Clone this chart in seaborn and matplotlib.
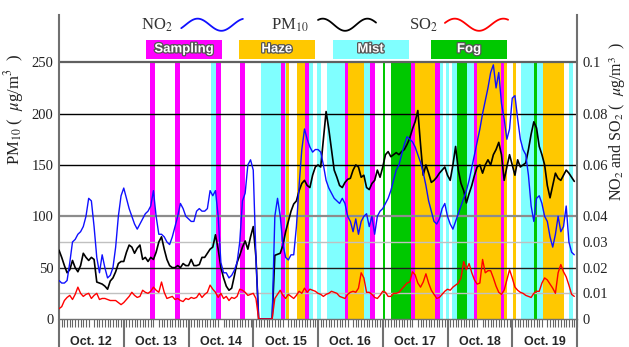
import numpy as np
import pandas as pd
import matplotlib
matplotlib.use("Agg")
import matplotlib.pyplot as plt
import matplotlib.patheffects as pe
import seaborn as sns

# ----------------------------
# DATA (hourly, Oct. 12 00h .. Oct. 19 23h)
# ----------------------------
days = ["Oct. 12", "Oct. 13", "Oct. 14", "Oct. 15", "Oct. 16", "Oct. 17", "Oct. 18", "Oct. 19"]

pm10 = [
    67, 60, 52, 45, 48, 57, 50, 46, 52, 64, 60, 57, 60, 58, 36, 35, 34, 32, 29, 37, 40, 46, 54, 56,
    56, 65, 72, 70, 64, 69, 72, 58, 60, 56, 60, 58, 65, 75, 80, 68, 58, 52, 50, 50, 52, 50, 54, 52,
    52, 58, 52, 52, 53, 60, 60, 64, 68, 70, 82, 68, 50, 40, 32, 28, 30, 42, 55, 62, 70, 76, 68, 80,
    90, 60, 0, 0, 0, 0, 0, 0, 62, 63, 64, 72, 85, 95, 105, 112, 115, 125, 132, 135, 130, 128, 140, 148,
    150, 148, 175, 202, 185, 165, 145, 138, 130, 128, 133, 136, 137, 145, 150, 148, 138, 140, 128, 126, 132, 135, 145, 138,
    148, 160, 163, 158, 160, 162, 160, 163, 165, 170, 176, 185, 192, 203, 170, 140, 150, 142, 133, 135, 138, 142, 145, 148,
    140, 135, 150, 168, 145, 132, 125, 113, 122, 130, 140, 148, 150, 142, 150, 155, 150, 160, 165, 172, 160, 135, 148, 160,
    150, 140, 155, 148, 150, 152, 165, 180, 192, 186, 168, 160, 150, 130, 118, 130, 142, 137, 135, 140, 145, 142, 138, 134,
]

no2 = [
    .015, .014, .014, .015, .022, .030, .031, .033, .034, .036, .040, .047, .046, .036, .024, .018, .025, .020, .016, .017, .020, .028, .040, .048,
    .051, .047, .043, .040, .037, .035, .037, .039, .041, .042, .044, .050, .040, .033, .033, .032, .030, .029, .032, .036, .040, .045, .043, .040,
    .039, .038, .038, .042, .043, .042, .042, .043, .050, .048, .050, .040, .022, .018, .018, .016, .017, .019, .022, .030, .046, .049, .060, .062,
    .058, .024, 0, 0, 0, 0, 0, 0, .040, .047, .040, .029, .024, .023, .025, .025, .036, .052, .066, .074, .070, .067, .065, .066,
    .066, .065, .060, .054, .051, .049, .047, .046, .045, .047, .045, .040, .038, .034, .039, .033, .038, .040, .041, .036, .040, .033, .040, .042,
    .043, .045, .047, .050, .054, .058, .060, .064, .068, .071, .070, .069, .067, .064, .061, .057, .052, .046, .042, .038, .037, .039, .043, .045,
    .040, .037, .035, .038, .041, .044, .047, .050, .054, .059, .064, .069, .074, .080, .085, .090, .096, .099, .090, .096, .084, .078, .070, .074,
    .086, .087, .078, .070, .066, .064, .056, .044, .038, .047, .048, .045, .040, .038, .032, .028, .033, .040, .034, .036, .044, .030, .026, .025,
]

so2 = [
    .0040, .0048, .0072, .0084, .0092, .0076, .0096, .0124, .0100, .0088, .0096, .0100, .0080, .0092, .0100, .0076, .0080, .0080, .0076, .0072, .0072, .0072, .0064, .0056,
    .0064, .0076, .0088, .0104, .0092, .0084, .0088, .0112, .0104, .0100, .0108, .0124, .0112, .0104, .0144, .0104, .0080, .0084, .0088, .0076, .0080, .0072, .0068, .0080,
    .0076, .0084, .0080, .0084, .0100, .0084, .0096, .0104, .0132, .0116, .0104, .0084, .0100, .0080, .0088, .0072, .0084, .0080, .0088, .0116, .0112, .0104, .0092, .0096,
    .0100, .0080, 0, 0, 0, 0, 0, 0, .0080, .0096, .0112, .0092, .0080, .0096, .0088, .0080, .0092, .0108, .0100, .0120, .0104, .0116, .0112, .0108,
    .0100, .0096, .0088, .0096, .0100, .0108, .0104, .0100, .0088, .0084, .0080, .0096, .0104, .0108, .0104, .0120, .0180, .0160, .0104, .0104, .0096, .0084, .0080, .0092,
    .0108, .0104, .0088, .0088, .0100, .0100, .0104, .0116, .0128, .0140, .0144, .0184, .0172, .0140, .0124, .0144, .0176, .0140, .0112, .0096, .0080, .0084, .0096, .0108,
    .0116, .0112, .0124, .0132, .0140, .0160, .0224, .0192, .0216, .0180, .0152, .0136, .0140, .0232, .0180, .0188, .0188, .0160, .0128, .0104, .0096, .0112, .0152, .0192,
    .0160, .0124, .0112, .0104, .0100, .0092, .0088, .0084, .0100, .0108, .0108, .0140, .0160, .0152, .0136, .0120, .0100, .0180, .0212, .0184, .0164, .0132, .0096, .0088,
]

# event periods (start hour, end hour)
sampling_spans = [(33.6, 35.6), (42.9, 45.0), (58.3, 59.9), (67.1, 69.0), (82.3, 83.6), (91.2, 92.7),
                  (106.0, 107.0), (115.3, 117.1), (130.3, 131.9), (139.4, 141.2), (153.9, 155.0), (163.7, 165.0)]
mist_spans = [(56.2, 58.3), (74.8, 82.3), (83.6, 84.1), (92.7, 94.1), (95.8, 97.1), (99.2, 106.0),
              (113.2, 115.3), (141.2, 142.4), (143.4, 144.5), (145.5, 147.6), (151.1, 153.9),
              (171.1, 176.2), (177.2, 179.5), (189.1, 190.6)]
haze_spans = [(84.1, 85.1), (88.1, 91.2), (107.0, 113.2), (131.9, 139.4), (155.0, 163.7),
              (165.0, 165.9), (168.2, 169.3), (179.5, 187.2)]
fog_spans = [(120.0, 121.0), (123.0, 130.3), (147.6, 151.1), (176.2, 177.2)]

event_names = ["Sampling", "Haze", "Mist", "Fog"]
event_colors = {"Sampling": "#ff00ff", "Haze": "#ffc800", "Mist": "#80ffff", "Fog": "#00c800"}

# ----------------------------
# STYLE
# ----------------------------
sns.set_style("white")
plt.rcParams["font.family"] = ["Liberation Serif", "DejaVu Serif"]
plt.rcParams["mathtext.fontset"] = "stix"

hours = np.arange(len(pm10))
df = pd.DataFrame({"hour": hours, "pm10": pm10, "no2": no2, "so2": so2})

fig = plt.figure(figsize=(6.29, 3.47), dpi=100)
ax = fig.add_axes([59 / 629, 1 - 319 / 347, 518 / 629, 304 / 347])
ax2 = ax.twinx()

ax.set_xlim(0, 192)
ax.set_ylim(0, 296)
ax2.set_ylim(0, 296 / 2500)

# shaded periods (only below the 250 line)
span_top = 250 / ax.get_ylim()[1]
for spans, name in [(mist_spans, "Mist"), (haze_spans, "Haze"), (fog_spans, "Fog"), (sampling_spans, "Sampling")]:
    for a, b in spans:
        ax.axvspan(a, b, ymin=0, ymax=span_top, color=event_colors[name], lw=0, zorder=0)

# horizontal guide lines
for yv, col, lw in [(250, "#606060", 1.6), (200, "#000000", 1.0), (150, "#000000", 1.0),
                    (100, "#8c8c8c", 1.6), (75, "#c0c0c0", 1.0), (50, "#202020", 1.0), (25, "#c0c0c0", 1.0)]:
    ax.axhline(yv, color=col, lw=lw, zorder=1)

sns.lineplot(data=df, x="hour", y="pm10", ax=ax, color="black", lw=1.2, zorder=3)
sns.lineplot(data=df, x="hour", y="no2", ax=ax2, color="#1010ff", lw=1.0, zorder=3)
sns.lineplot(data=df, x="hour", y="so2", ax=ax2, color="#ff0000", lw=1.0, zorder=3)

ax.set_xlim(0, 192)
ax.set_ylim(0, 296)
ax2.set_ylim(0, 296 / 2500)

ax.set_yticks([0, 50, 100, 150, 200, 250])
ax2.set_yticks([0, 0.01, 0.02, 0.03, 0.04, 0.06, 0.08, 0.1])
ax2.set_yticklabels(["0", "0.01", "0.02", "0.03", "0.04", "0.06", "0.08", "0.1"])
ax.tick_params(axis="y", length=0, pad=4, labelsize=10.5, labelcolor="#222222")
ax2.tick_params(axis="y", length=0, pad=4, labelsize=10.5, labelcolor="#222222")

ax.set_xticks(np.arange(12, 192, 24))
ax.set_xticklabels(days, fontfamily="Liberation Sans", fontweight="bold", fontsize=9)
ax.set_xticks(np.arange(0, 193, 1), minor=True)
ax.tick_params(axis="x", which="major", bottom=True, length=0, pad=12)
ax.tick_params(axis="x", which="minor", bottom=True, length=6, width=0.8, color="#666666", direction="out")
ax.vlines(np.arange(0, 193, 24), -0.1, 0, transform=ax.get_xaxis_transform(),
          colors="#707070", lw=1.5, clip_on=False)

ax.set_xlabel("")
ax.set_ylabel(r"PM$_{10}$ (  $\mu$g/m$^3$  )", fontsize=12, color="#222222")
ax.yaxis.set_label_coords(-0.064, 0.69)
ax2.set_ylabel(r"NO$_2$ and SO$_2$ (  $\mu$g/m$^3$  )", fontsize=11.5, color="#222222")
ax2.yaxis.set_label_coords(1.058, 0.65)

for a in (ax, ax2):
    a.spines["top"].set_visible(False)
ax.spines["right"].set_visible(False)
ax2.spines["left"].set_visible(False)
ax2.spines["bottom"].set_visible(False)
ax.spines["left"].set_color("#707070")
ax.spines["left"].set_linewidth(1.5)
ax2.spines["right"].set_color("#707070")
ax2.spines["right"].set_linewidth(1.5)
ax.spines["bottom"].set_color("#707070")
ax.spines["bottom"].set_linewidth(1.0)

# top legend: pollutant lines
tr = ax.transAxes
wave_t = np.linspace(0, 1, 60)
for label, lx, x0, x1, col, ph in [(r"NO$_2$", 0.189, 0.236, 0.355, "#1010ff", -0.6),
                                   (r"PM$_{10}$", 0.446, 0.500, 0.612, "#000000", 0.9),
                                   (r"SO$_2$", 0.703, 0.745, 0.867, "#ff0000", 0.3)]:
    ax.text(lx, 0.967, label, transform=tr, ha="center", va="center", fontsize=12, color="#333333")
    ax.plot(x0 + (x1 - x0) * wave_t, 0.968 + 0.02 * np.sin(2 * np.pi * 1.3 * wave_t + ph),
            transform=tr, color=col, lw=1.3, clip_on=False, zorder=5)

# top legend: event boxes
box_x = [0.168, 0.347, 0.528, 0.718]
for name, bx in zip(event_names, box_x):
    ax.add_patch(plt.Rectangle((bx, 0.855), 0.147, 0.063, transform=tr,
                               color=event_colors[name], lw=0, zorder=5))
    ax.text(bx + 0.0735, 0.887, name, transform=tr, ha="center", va="center", fontsize=9.5,
            fontfamily="Liberation Sans", fontweight="bold", color="white", zorder=6,
            path_effects=[pe.withStroke(linewidth=1.8, foreground="#555555")])

fig.savefig("out.png", dpi=100)
